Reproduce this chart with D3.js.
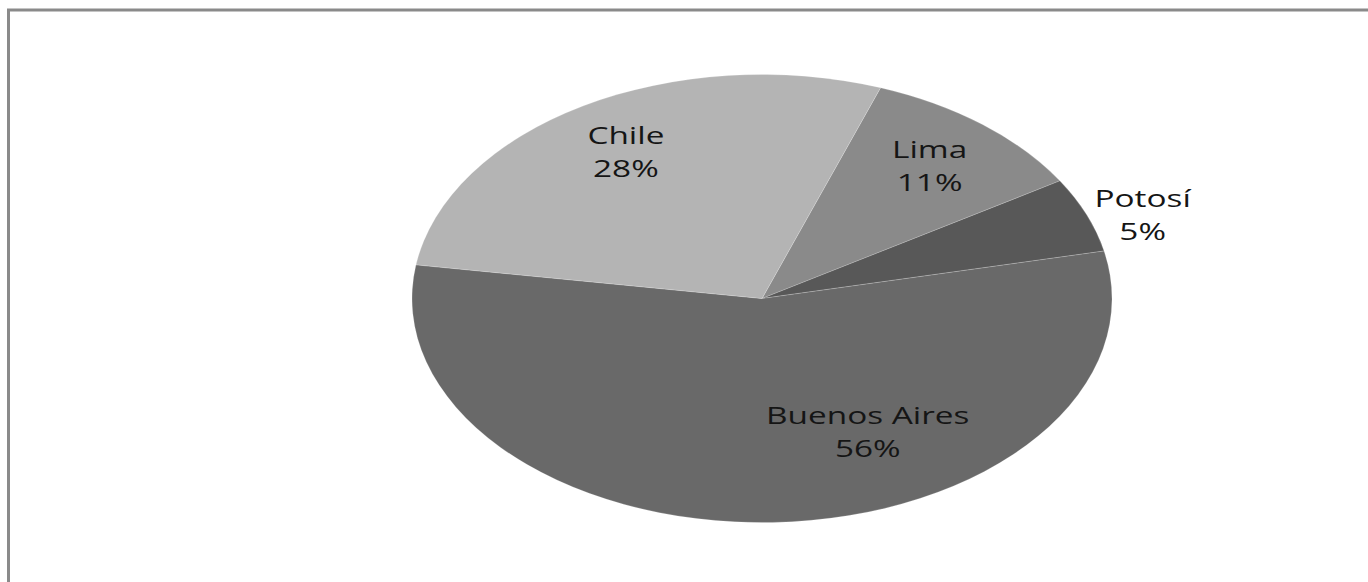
<!DOCTYPE html>
<html>
<head>
<meta charset="utf-8">
<script src="https://cdn.jsdelivr.net/npm/d3@7"></script>
<style>
  body { margin: 0; background: #fff; }
  svg { display: block; }
</style>
</head>
<body>
<div id="chart"></div>
<script>
// slices in drawing order, clockwise from the rotated start
const cities = ["Lima", "Potosí", "Buenos Aires", "Chile"];
const shares = [10.7, 5.4, 55.8, 28.1];
const shades = ["#8a8a8a", "#585858", "#696969", "#b4b4b4"];

const width = 1368, height = 582;
const cx = 762, cy = 298.5, rx = 350, ry = 224;
const rotation = 19.8 * Math.PI / 180;

// label placement (best fit): radius factor and angle nudge in degrees
const labelFit = { "Potosí": [1.15, 3], "Buenos Aires": [0.67, -25] };

const svg = d3.select("#chart").append("svg")
  .attr("width", width).attr("height", height);

// frame, only top and left edges visible
svg.append("rect")
  .attr("x", 8.5).attr("y", 10).attr("width", width + 20).attr("height", height + 20)
  .attr("fill", "none").attr("stroke", "#8a8a8a").attr("stroke-width", 3);

const total = d3.sum(shares);
const pct = d3.format(".0%");
const color = d3.scaleOrdinal().domain(cities).range(shades);

const pie = d3.pie().sort(null)
  .startAngle(rotation).endAngle(rotation + 2 * Math.PI);
const slices = pie(shares).map((s, i) => Object.assign(s, { city: cities[i] }));

const arc = d3.arc().innerRadius(0).outerRadius(ry);

// stretched circle -> ellipse
const g = svg.append("g")
  .attr("transform", `translate(${cx},${cy}) scale(${rx / ry},1)`);

g.selectAll("path")
  .data(slices)
  .enter().append("path")
  .attr("d", arc)
  .attr("fill", d => color(d.city))
  .attr("stroke", "rgba(255,255,255,0.25)")
  .attr("stroke-width", 0.6);

const labels = svg.append("g");
slices.forEach(s => {
  const [r, nudge] = labelFit[s.city] || [0.76, 0];
  const a = (s.startAngle + s.endAngle) / 2 + nudge * Math.PI / 180;
  const x = cx + rx * r * Math.sin(a);
  const y = cy - ry * r * Math.cos(a);
  const t = labels.append("text")
    .attr("transform", `translate(${x},${y}) scale(1.45,1)`)
    .attr("text-anchor", "middle")
    .style("font-family", "'Open Sans', 'DejaVu Sans', sans-serif")
    .style("font-size", "23px")
    .style("font-weight", 500)
    .attr("fill", "#151515");
  t.append("tspan").attr("x", 0).attr("y", -8).text(s.city);
  t.append("tspan").attr("x", 0).attr("y", 25).text(pct(s.value / total));
});
</script>
</body>
</html>
